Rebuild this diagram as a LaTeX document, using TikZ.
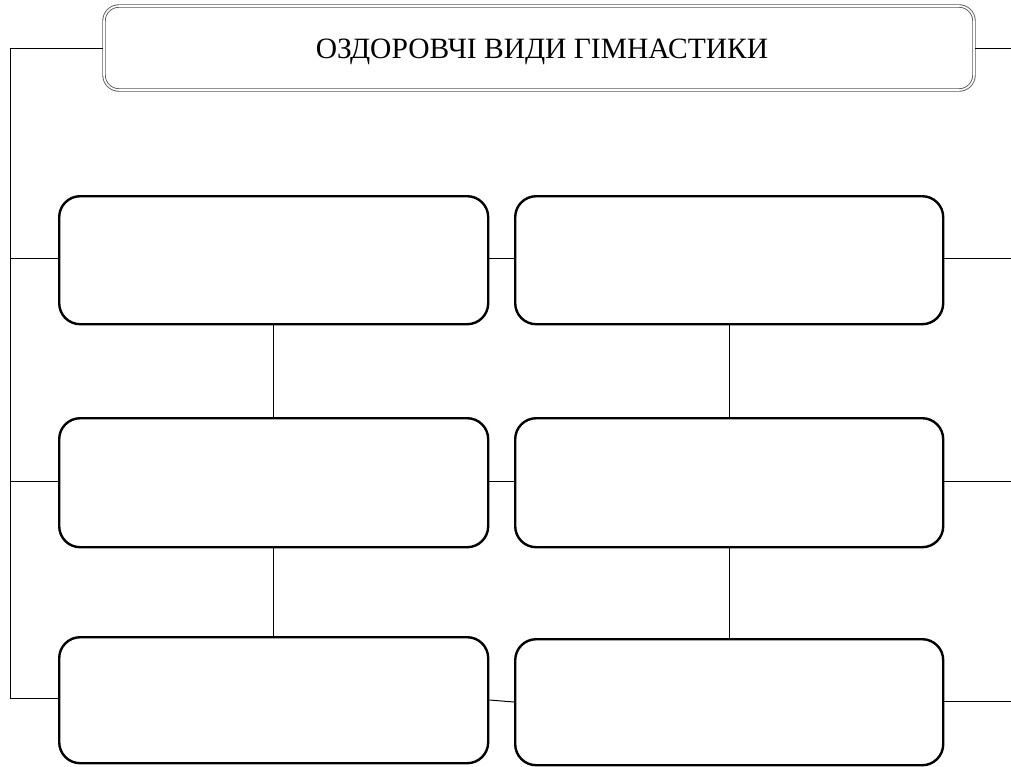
\documentclass[tikz,border=0pt]{standalone}
\usepackage{fontspec}
\setmainfont{Liberation Serif}
\begin{document}
\begin{tikzpicture}[x=1pt,y=-1pt,
  box/.style={draw=black,line width=2.4pt,rounded corners=21pt},
  titlebox/.style={draw=black!65,line width=0.9pt,double=white,double distance=1.6pt,rounded corners=15pt},
  conn/.style={draw=black,line width=1pt}]
\useasboundingbox (0,0) rectangle (1011,766);
\path[titlebox] (104,6) rectangle (974,90);
\node[font=\fontsize{29.5}{32}\selectfont,anchor=base] (title) at (542,58) {ОЗДОРОВЧІ ВИДИ ГІМНАСТИКИ};
\coordinate (tl) at (103,48);
\coordinate (tr) at (975,48);
\coordinate (tre) at (1011,48);
% boxes
\node[box,minimum width=429pt,minimum height=128pt,anchor=north west] (a1) at (58,195) {};
\node[box,minimum width=428pt,minimum height=128pt,anchor=north west] (b1) at (514,195) {};
\node[box,minimum width=429pt,minimum height=129pt,anchor=north west] (a2) at (58,417) {};
\node[box,minimum width=428pt,minimum height=129pt,anchor=north west] (b2) at (514,417) {};
\node[box,minimum width=429pt,minimum height=126pt,anchor=north west] (a3) at (58,636) {};
\node[box,minimum width=428pt,minimum height=126pt,anchor=north west] (b3) at (514,638) {};
% left spine
\coordinate (s0) at (10,48);
\coordinate (s1) at (10,258);
\coordinate (s2) at (10,481);
\coordinate (s3) at (10,698);
\draw[conn] (tl) -- (s0) -- (s3) -- (a3.west |- s3);
\draw[conn] (s1) -- (a1.west |- s1);
\draw[conn] (s2) -- (a2.west |- s2);
\draw[conn] (tr) -- (tre);
% between columns
\draw[conn] (a1.east |- s1) -- (b1.west |- s1);
\draw[conn] (a2.east |- s2) -- (b2.west |- s2);
\draw[conn] (a3.east |- 0,700) -- (b3.west |- 0,702);
% verticals
\draw[conn] (a1.south) -- (a2.north);
\draw[conn] (a2.south) -- (a3.north);
\draw[conn] (b1.south) -- (b2.north);
\draw[conn] (b2.south) -- (b3.north);
% right stubs
\coordinate (r1) at (1011,258);
\coordinate (r2) at (1011,481);
\coordinate (r3) at (1011,701);
\draw[conn] (b1.east |- r1) -- (r1);
\draw[conn] (b2.east |- r2) -- (r2);
\draw[conn] (b3.east |- r3) -- (r3);
\end{tikzpicture}
\end{document}
